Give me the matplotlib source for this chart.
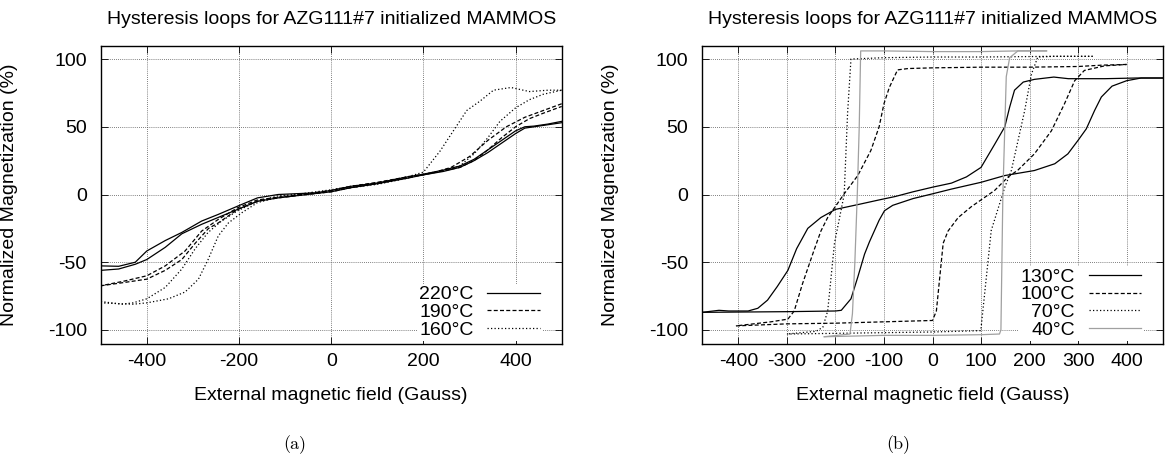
import matplotlib
matplotlib.use("Agg")
import matplotlib.pyplot as plt

# ---------------- data ----------------
title = "Hysteresis loops for AZG111#7 initialized MAMMOS"
xlabel = "External magnetic field (Gauss)"
ylabel = "Normalized Magnetization (%)"

# Left panel (a): 220, 190, 160 degC, descending and ascending branches
h220_desc = [500, 470, 440, 420, 400, 370, 340, 310, 279, 243, 200, 165, 100, 42, 0, -35, -115, -160, -203, -245, -281, -324, -360, -400, -425, -461, -500]
m220_desc = [54, 52, 50.5, 50, 47, 40, 33, 26, 21, 18, 15, 13, 8.5, 6, 3, 1.2, 0, -2.5, -8.6, -14.7, -19.6, -28, -34, -41.7, -50, -53, -52.7]
h220_asc = [-500, -461, -425, -400, -360, -324, -281, -203, -160, -115, -35, 0, 42, 100, 165, 200, 243, 279, 310, 340, 370, 400, 420, 440, 470, 500]
m220_asc = [-56, -55, -51.5, -48, -39, -29, -22, -11, -5, -2.5, 0.7, 2, 5, 8, 12, 14.5, 17, 20, 25, 31, 38, 45, 49, 50, 51.5, 53]

h190_desc = [500, 460, 420, 380, 340, 300, 260, 220, 165, 100, 42, 0, -66, -115, -160, -203, -245, -281, -317, -360, -400, -450, -500]
m190_desc = [67, 62, 57, 50, 40, 28, 20, 16, 13, 9, 6, 3, 0, -2, -4, -9.8, -18.4, -27, -41.7, -52.7, -60, -64, -67.4]
h190_asc = [-500, -450, -400, -360, -324, -295, -266, -245, -203, -160, -115, -66, 0, 42, 100, 165, 200, 243, 279, 310, 340, 370, 400, 430, 460, 500]
m190_asc = [-67.4, -65, -62.5, -56, -48, -36, -25, -21, -11, -5, -2.5, -0.5, 2, 5, 8, 12.5, 14.5, 17.5, 20, 25, 33, 42, 50, 56, 60, 65]

h160_desc = [500, 470, 430, 390, 352, 323, 294, 265, 236, 200, 165, 100, 42, 0, -66, -115, -160, -203, -238, -267, -295, -324, -360, -400, -430, -454, -500]
m160_desc = [77, 77, 76, 79, 77, 69, 62, 47, 32, 16.5, 13, 8.5, 6, 3.5, 0.5, -1, -5, -12, -19.6, -28, -40, -55, -68.6, -77, -80, -81, -79]
h160_asc = [-500, -430, -400, -353, -317, -288, -267, -245, -223, -194, -160, -115, -66, 0, 42, 100, 165, 200, 243, 279, 310, 340, 366, 400, 430, 460, 500]
m160_asc = [-80, -81, -80, -77, -72, -62.5, -48, -30.6, -21, -13.5, -6, -2, 0, 2.5, 5, 7.5, 12, 15, 17.7, 21, 30, 42, 54, 64, 70, 74, 77]

# Right panel (b): 130, 100, 70, 40 degC
h130_desc = [480, 420, 355, 280, 250, 210, 187, 169, 159, 149, 128, 100, 70, 39, 0, -40, -77, -110, -148, -200, -230, -257, -280, -298, -320, -340, -360, -380, -420, -440, -475]
m130_desc = [86, 86, 85.5, 85.5, 86.7, 85, 83, 77, 64.5, 50, 37, 20, 13, 8.4, 5.4, 2, -1.5, -4, -7, -11, -17, -25, -40, -56, -68, -78, -84, -86, -86, -85.5, -87]
h130_asc = [-475, -300, -200, -188, -168, -154, -140, -130, -110, -99, -82, -40, 0, 39, 100, 149, 210, 252, 279, 300, 317, 334, 348, 370, 400, 430, 480]
m130_asc = [-87, -86.5, -86, -85.5, -77, -61, -44, -35, -19, -12, -8, -3, 0.5, 4, 9, 14, 17.7, 22.7, 30, 40, 48.5, 62, 72, 80, 84, 86, 86]

h100_desc = [400, 350, 300, 200, 100, 0, -50, -72, -89, -100, -110, -127, -154, -182, -216, -230, -244, -268, -285, -298, -333, -405]
m100_desc = [96, 95.5, 94.5, 94, 94, 93.5, 93, 92, 79, 67, 50, 32.5, 14, 0.5, -17, -27, -41, -66, -86, -92, -94, -97]
h100_asc = [-405, -300, -200, -100, -50, 0, 8, 15, 22, 32, 53, 80, 104, 128, 156, 176, 210, 245, 272, 293, 313, 355, 400]
m100_asc = [-97, -95.5, -95, -94, -93.5, -93, -86, -61, -36, -27, -17, -9, -3, 3, 13, 18, 30, 47, 67, 84, 91.6, 95, 96]

h70_desc = [330, 250, 100, 0, -100, -168, -175, -182, -202, -216, -226, -240, -300]
m70_desc = [102, 102, 101.5, 101.5, 101, 100, 60, 0, -36, -86, -98, -101, -103]
h70_asc = [-300, -200, -100, 0, 99.5, 121, 149, 162.5, 190, 204, 217, 250, 330]
m70_asc = [-103, -102.5, -102, -101.5, -100.5, -26.6, 5.4, 17.7, 62, 89, 101.5, 102, 102]

h40_desc = [235, 176, 100, 0, -100, -148, -151, -155, -160, -165, -170, -223]
m40_desc = [106, 106, 105.5, 105.5, 106, 106, 50, 0, -50, -88, -103, -105]
h40_asc = [-223, -100, 0, 100, 138, 141, 145, 152, 159, 176, 235]
m40_asc = [-105, -104, -104, -103.5, -103, -100, 0, 87, 101, 106, 106]

left_labels = ["220°C", "190°C", "160°C"]
right_labels = ["130°C", "100°C", "70°C", "40°C"]
xticks_a = [-400, -200, 0, 200, 400]
xticks_b = [-400, -300, -200, -100, 0, 100, 200, 300, 400]
yticks = [-100, -50, 0, 50, 100]

# ---------------- styling ----------------
plt.rcParams["font.family"] = ["Liberation Sans", "DejaVu Sans"]
plt.rcParams["axes.unicode_minus"] = False
FS = 14
W, H = 1172, 459
fig = plt.figure(figsize=(W / 100, H / 100), dpi=100)

styles = {
    "solid": dict(color="black", lw=0.9, ls="-"),
    "dashed": dict(color="black", lw=0.9, ls=(0, (3.2, 1.8))),
    "dotted": dict(color="black", lw=0.9, ls=(0, (1, 1.8))),
    "gray": dict(color="#a0a0a0", lw=0.9, ls="-"),
}

ax_w, ax_h = 461, 298
ax_bottom = 459 - 343.5
axA = fig.add_axes([100.7 / W, ax_bottom / H, ax_w / W, ax_h / H])
axB = fig.add_axes([702 / W, ax_bottom / H, ax_w / W, ax_h / H])


def setup(ax, xlim, xticks):
    ax.set_xlim(*xlim)
    ax.set_ylim(-110, 110)
    ax.set_xticks(xticks)
    ax.set_yticks(yticks)
    ax.tick_params(direction="in", top=True, right=True, length=5, width=0.6,
                   labelsize=FS, color="black")
    ax.tick_params(axis="x", pad=7)
    ax.tick_params(axis="y", pad=10)
    ax.grid(True, color="#555555", ls=(0, (1, 1.5)), lw=0.6)
    for s in ax.spines.values():
        s.set_linewidth(1.0)
    ax.set_xlabel(xlabel, fontsize=FS, labelpad=12)
    ax.set_ylabel(ylabel, fontsize=FS)
    ax.yaxis.set_label_coords(-83 / ax_w, 0.5)
    ax.text(0.5, 1 + 25.5 / ax_h, title, transform=ax.transAxes, ha="center",
            va="center", fontsize=FS)


setup(axA, (-500, 500), xticks_a)
setup(axB, (-475, 475), xticks_b)

# panel (a)
axA.plot(h220_desc, m220_desc, label=left_labels[0], **styles["solid"])
axA.plot(h220_asc, m220_asc, **styles["solid"])
axA.plot(h190_desc, m190_desc, label=left_labels[1], **styles["dashed"])
axA.plot(h190_asc, m190_asc, **styles["dashed"])
axA.plot(h160_desc, m160_desc, label=left_labels[2], **styles["dotted"])
axA.plot(h160_asc, m160_asc, **styles["dotted"])

# panel (b)
axB.plot(h130_desc, m130_desc, label=right_labels[0], **styles["solid"])
axB.plot(h130_asc, m130_asc, **styles["solid"])
axB.plot(h100_desc, m100_desc, label=right_labels[1], **styles["dashed"])
axB.plot(h100_asc, m100_asc, **styles["dashed"])
axB.plot(h70_desc, m70_desc, label=right_labels[2], **styles["dotted"])
axB.plot(h70_asc, m70_asc, **styles["dotted"])
axB.plot(h40_desc, m40_desc, label=right_labels[3], **styles["gray"])
axB.plot(h40_asc, m40_asc, **styles["gray"])

for ax in (axA, axB):
    ax.legend(loc="lower right", bbox_to_anchor=(1 - 20 / ax_w, 3 / ax_h),
              markerfirst=False, frameon=True, fancybox=False,
              edgecolor="none", facecolor="white", framealpha=1,
              fontsize=FS, handlelength=2.7, handletextpad=0.7,
              labelspacing=0.0, borderpad=0.1, borderaxespad=0)

fig.text(295 / W, 1 - 445 / H, "(a)", ha="center", va="center",
         fontsize=13, family=["cmr10", "DejaVu Serif"])
fig.text(898 / W, 1 - 445 / H, "(b)", ha="center", va="center",
         fontsize=13, family=["cmr10", "DejaVu Serif"])

fig.savefig("out.png", dpi=100)
